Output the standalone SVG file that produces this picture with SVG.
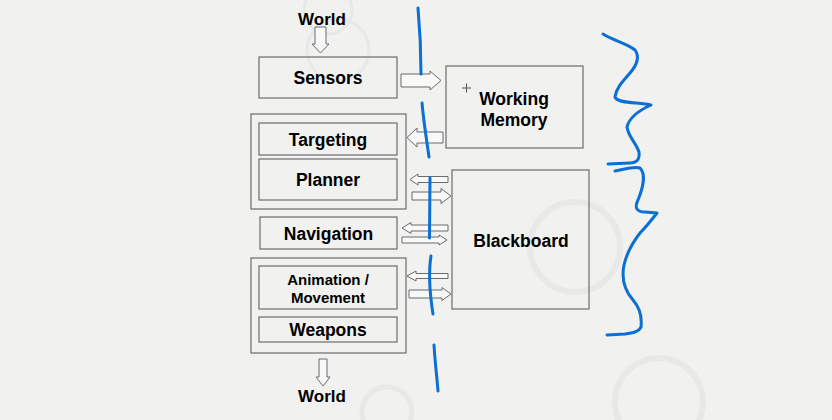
<svg xmlns="http://www.w3.org/2000/svg" width="832" height="420" viewBox="0 0 832 420">
<style>
.bg{fill:#f1f2f0}
.ring{fill:none;stroke:#e7e9e7}
.box{fill:none;stroke:#6b6b6b;stroke-width:1.2}
.arr{fill:#f8f8f8;stroke:#6b6b6b;stroke-width:1}
.t{font-family:"Liberation Sans",Arial,sans-serif;font-weight:bold;fill:#000;text-anchor:middle}
.ink{fill:none;stroke:#0b6fd4;stroke-width:3;stroke-linecap:round;stroke-linejoin:round}
</style>
<rect class="bg" x="0" y="0" width="832" height="420"/>
<g id="background">
<circle class="ring" cx="328" cy="10" r="24" stroke-width="3"/>
<circle class="ring" cx="338" cy="50" r="31" stroke-width="3"/>
<circle class="ring" cx="575" cy="247" r="45" stroke-width="6"/>
<circle class="ring" cx="659" cy="402" r="44" stroke-width="6"/>
<circle class="ring" cx="387" cy="412" r="25" stroke-width="5"/>
</g>
<g id="connectors">
<polygon class="arr" points="315,27 326,27 326,44 329,44 320.5,53 312,44 315,44"/>
<polygon class="arr" points="401,74 430,74 430,71 441,80.5 430,90 430,87 401,87"/>
<polygon class="arr" points="443,132 417,132 417,128 407,137.5 417,147 417,143 443,143"/>
<polygon class="arr" points="448,176.5 418,176.5 418,174 410,179.5 418,185 418,182.5 448,182.5"/>
<polygon class="arr" points="412,192 441,192 441,188.5 451,196 441,203.5 441,200 412,200"/>
<polygon class="arr" points="448,225 411,225 411,222.5 402,228 411,233.5 411,231 448,231"/>
<polygon class="arr" points="402,237 439,237 439,235 447,240 439,245 439,243 402,243"/>
<polygon class="arr" points="448,273.5 416,273.5 416,271 407,276 416,281 416,278.5 448,278.5"/>
<polygon class="arr" points="409,290 442,290 442,287.5 451,294 442,300.5 442,298 409,298"/>
<polygon class="arr" points="319,359 327,359 327,377 330,377 323,386 316,377 319,377"/>
</g>
<g id="world-top"><text class="t" x="322" y="25" font-size="17">World</text></g>
<g id="sensors"><rect class="box" x="259" y="57" width="138" height="41"/><text class="t" x="328" y="84" font-size="17.5">Sensors</text></g>
<g id="working-memory"><rect class="box" x="446" y="66" width="137" height="82"/>
<path d="M462,88 h9 M466.5,83.5 v9" stroke="#555" stroke-width="1" fill="none"/>
<text class="t" x="514" y="105" font-size="17.5">Working</text><text class="t" x="514" y="126" font-size="17.5">Memory</text></g>
<g id="group-upper"><rect class="box" x="251" y="114" width="155" height="95"/></g>
<g id="targeting"><rect class="box" x="259" y="123" width="138" height="32"/><text class="t" x="328" y="145.5" font-size="17.5">Targeting</text></g>
<g id="planner"><rect class="box" x="259" y="159" width="138" height="41"/><text class="t" x="328" y="186" font-size="17.5">Planner</text></g>
<g id="navigation"><rect class="box" x="260" y="217" width="137" height="32"/><text class="t" x="328.5" y="239.5" font-size="17.5">Navigation</text></g>
<g id="group-lower"><rect class="box" x="251" y="258" width="155" height="95"/></g>
<g id="animation"><rect class="box" x="259" y="266" width="138" height="43"/><text class="t" x="328" y="285" font-size="15">Animation /</text><text class="t" x="328" y="303" font-size="15">Movement</text></g>
<g id="weapons"><rect class="box" x="259" y="317" width="138" height="25"/><text class="t" x="328" y="335.5" font-size="17.5">Weapons</text></g>
<g id="blackboard"><rect class="box" x="452" y="170" width="137" height="139"/><text class="t" x="521" y="247" font-size="17.5">Blackboard</text></g>
<g id="world-bottom"><text class="t" x="322" y="402" font-size="17">World</text></g>
<g id="ink">
<path class="ink" d="M418,8 C420,30 421,50 421,74"/>
<path class="ink" d="M422,103 C424,125 427,142 429,157"/>
<path class="ink" d="M430,178 L429.5,238"/>
<path class="ink" d="M431,256 C428,275 430,295 433,314"/>
<path class="ink" d="M434,345 C435,362 437,378 438,391"/>
<path class="ink" d="M603,34 C612,40 628,44 635,50 C640,57 636,66 630,73 C623,81 616,88 615,97 C617,104 640,102 651,105 C640,110 629,118 627,127 C628,136 636,143 639,152 C640,160 636,163 630,163 L608,164"/>
<path class="ink" d="M615,171 C625,169 635,166 640,168 C646,174 643,188 638,200 C634,208 637,212 645,212 L657,213 C650,222 645,228 640,233 C633,242 627,252 624,265 C621,280 626,292 633,300 C640,308 642,318 641,327 C639,332 632,333 625,334 L607,335"/>
</g>
</svg>
